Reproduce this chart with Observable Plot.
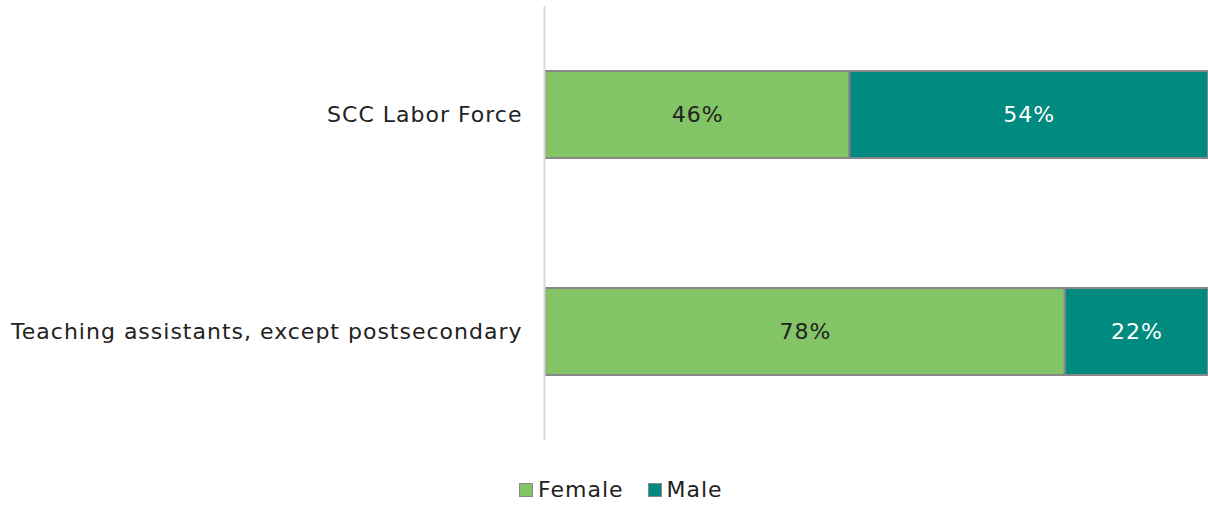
<!DOCTYPE html>
<html>
<head>
<meta charset="utf-8">
<script src="https://cdn.jsdelivr.net/npm/d3@7"></script>
<script src="https://cdn.jsdelivr.net/npm/@observablehq/plot@0.6"></script>
<style>
  html, body { margin: 0; padding: 0; background: #fff; }
  body { width: 1208px; height: 506px; overflow: hidden; font-family: "DejaVu Sans", sans-serif; }
  #chart svg text { letter-spacing: 1px; }
  #legend { position: absolute; top: 477px; left: 519px; display: flex; align-items: center; font-size: 22px; letter-spacing: 1px; color: #222; }
  .sw { display: inline-block; width: 14px; height: 14px; box-sizing: border-box; border: 1.5px solid #888; margin-right: 5px; }
  .item { display: flex; align-items: center; margin-right: 24px; }
</style>
</head>
<body>
<div id="chart"></div>
<div id="legend"></div>
<script>
const categories = ["SCC Labor Force", "Teaching assistants, except postsecondary"];
const genders = ["Female", "Male"];
const female = [45.9, 78.4];
const male = [54.1, 21.6];
const colors = ["#82C466", "#008A80"];
const textColors = ["#222222", "#ffffff"];

const rows = [];
categories.forEach((c, i) => {
  rows.push({category: c, gender: "Female", value: female[i]});
  rows.push({category: c, gender: "Male", value: male[i]});
});

const chart = Plot.plot({
  width: 1208,
  height: 446,
  marginLeft: 545,
  marginRight: 0,
  marginTop: 6,
  marginBottom: 6,
  style: {fontFamily: "DejaVu Sans, sans-serif", fontSize: "22px", background: "#fff"},
  x: {domain: [0, 100], axis: null},
  y: {domain: categories, paddingInner: 0.6, paddingOuter: 0.3, label: null},
  color: {domain: genders, range: colors},
  marks: [
    Plot.axisY({tickSize: 0, tickPadding: 23, fontSize: 22, fill: "#222", label: null}),
    Plot.barX(rows, {x: "value", y: "category", fill: "gender", stroke: "#888", strokeWidth: 2, order: genders}),
    Plot.textX(rows, Plot.stackX({
      x: "value", y: "category", z: "gender", order: genders,
      text: d => Math.round(d.value) + "%",
      fill: d => textColors[genders.indexOf(d.gender)],
      fontSize: 22
    })),
    Plot.ruleX([0], {stroke: "#d9d9d9", strokeWidth: 2, dx: -1})
  ]
});
document.getElementById("chart").appendChild(chart);

const legend = document.getElementById("legend");
genders.forEach((g, i) => {
  const item = document.createElement("div");
  item.className = "item";
  const sw = document.createElement("span");
  sw.className = "sw";
  sw.style.background = colors[i];
  item.appendChild(sw);
  item.appendChild(document.createTextNode(g));
  legend.appendChild(item);
});
</script>
</body>
</html>
